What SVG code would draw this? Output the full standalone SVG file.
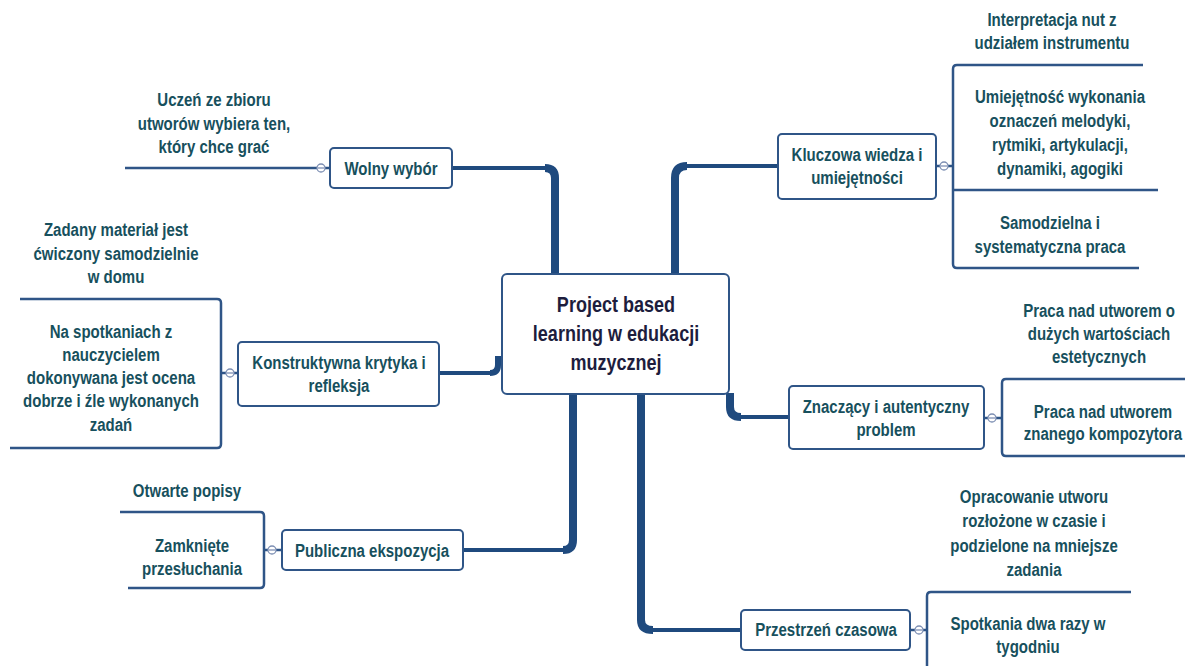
<svg xmlns="http://www.w3.org/2000/svg" width="1185" height="666" viewBox="0 0 1185 666">
<style>
.box{fill:#fff;stroke:#2f5587;stroke-width:2}
.leaf{fill:none;stroke:#2f5587;stroke-width:2.5}
.thin{fill:none;stroke:#1f4a7e;stroke-width:4}
.thick{fill:none;stroke:#1f4a7e;stroke-width:8}
.tog{fill:#fff;stroke:#7d8fb3;stroke-width:1.3}
.tm{stroke:#7d8fb3;stroke-width:1.3}
.t{font-family:"Liberation Sans",Arial,sans-serif;font-weight:bold;font-size:19px;fill:#17505d;text-anchor:middle}
.c{font-family:"Liberation Sans",Arial,sans-serif;font-weight:bold;font-size:22px;fill:#1d1d3d;text-anchor:middle}
</style>
<rect width="1185" height="666" fill="#fff"/>
<g id="connectors">
<path class="thin" d="M452,168 H549"/>
<path class="thick" d="M545,168 Q555,168 555,178 V275"/>
<path class="thin" d="M778,166 H683"/>
<path class="thick" d="M687,166 Q675,166 675,178 V275"/>
<path class="thin" d="M439,373 H492"/>
<path class="thick" d="M490,373 Q498,373 498,365 V356" style="stroke-width:6"/>
<path class="thin" d="M463,550 H566"/>
<path class="thick" d="M563,550 Q573,550 573,540 V393"/>
<path class="thin" d="M789,417 H738"/>
<path class="thick" d="M741,417 Q730,417 730,407 V393"/>
<path class="thin" d="M741,630 H650"/>
<path class="thick" d="M653,630 Q641,630 641,620 V393"/>
</g>
<g id="central">
<rect class="box" x="502" y="274" width="227" height="120" rx="5"/>
<text class="c" transform="matrix(0.82 0 0 1 616 0)"><tspan x="0" y="312">Project based</tspan><tspan x="0" y="341">learning w edukacji</tspan><tspan x="0" y="370">muzycznej</tspan></text>
</g>
<g id="wolny">
<rect class="box" x="330" y="148" width="122" height="40" rx="4"/>
<text class="t" transform="matrix(0.79 0 0 1 391 0)"><tspan x="0" y="175">Wolny wybór</tspan></text>
<path class="leaf" d="M125,168 H317 M325,168 H330"/>
<circle class="tog" cx="321" cy="168" r="4"/><path class="tm" d="M318,168 H324"/>
<text class="t" transform="matrix(0.79 0 0 1 214 0)"><tspan x="0" y="106">Uczeń ze zbioru</tspan><tspan x="0" y="130">utworów wybiera ten,</tspan><tspan x="0" y="153">który chce grać</tspan></text>
</g>
<g id="kluczowa">
<rect class="box" x="778" y="134" width="158" height="65" rx="4"/>
<text class="t" transform="matrix(0.79 0 0 1 857 0)"><tspan x="0" y="161">Kluczowa wiedza i</tspan><tspan x="0" y="184">umiejętności</tspan></text>
<path class="leaf" d="M936,166 H940 M948,166 H953 M1143,65 H957 Q953,65 953,69 V264 Q953,268 957,268 H1139 M953,190 H1158"/>
<circle class="tog" cx="944" cy="166" r="4"/><path class="tm" d="M941,166 H947"/>
<text class="t" transform="matrix(0.79 0 0 1 1052 0)"><tspan x="0" y="26">Interpretacja nut z</tspan><tspan x="0" y="49">udziałem instrumentu</tspan></text>
<text class="t" transform="matrix(0.79 0 0 1 1060 0)"><tspan x="0" y="103">Umiejętność wykonania</tspan><tspan x="0" y="127">oznaczeń melodyki,</tspan><tspan x="0" y="151">rytmiki, artykulacji,</tspan><tspan x="0" y="175">dynamiki, agogiki</tspan></text>
<text class="t" transform="matrix(0.79 0 0 1 1050 0)"><tspan x="0" y="229">Samodzielna i</tspan><tspan x="0" y="253">systematyczna praca</tspan></text>
</g>
<g id="konstruktywna">
<rect class="box" x="238" y="342" width="201" height="64" rx="4"/>
<text class="t" transform="matrix(0.79 0 0 1 339 0)"><tspan x="0" y="369">Konstruktywna krytyka i</tspan><tspan x="0" y="392">refleksja</tspan></text>
<path class="leaf" d="M238,373 H234 M226,373 H221 M20,299 H217 Q221,299 221,303 V444 Q221,448 217,448 H10"/>
<circle class="tog" cx="230" cy="373" r="4"/><path class="tm" d="M227,373 H233"/>
<text class="t" transform="matrix(0.79 0 0 1 116 0)"><tspan x="0" y="236">Zadany materiał jest</tspan><tspan x="0" y="260">ćwiczony samodzielnie</tspan><tspan x="0" y="283">w domu</tspan></text>
<text class="t" transform="matrix(0.79 0 0 1 111 0)"><tspan x="0" y="338">Na spotkaniach z</tspan><tspan x="0" y="361">nauczycielem</tspan><tspan x="0" y="384">dokonywana jest ocena</tspan><tspan x="0" y="407">dobrze i źle wykonanych</tspan><tspan x="0" y="431">zadań</tspan></text>
</g>
<g id="znaczacy">
<rect class="box" x="789" y="386" width="195" height="63" rx="4"/>
<text class="t" transform="matrix(0.79 0 0 1 886 0)"><tspan x="0" y="413">Znaczący i autentyczny</tspan><tspan x="0" y="436">problem</tspan></text>
<path class="leaf" d="M984,418 H988 M996,418 H1002 M1185,379 H1006 Q1002,379 1002,383 V452 Q1002,456 1006,456 H1185"/>
<circle class="tog" cx="992" cy="418" r="4"/><path class="tm" d="M989,418 H995"/>
<text class="t" transform="matrix(0.79 0 0 1 1099 0)"><tspan x="0" y="317">Praca nad utworem o</tspan><tspan x="0" y="340">dużych wartościach</tspan><tspan x="0" y="363">estetycznych</tspan></text>
<text class="t" transform="matrix(0.79 0 0 1 1103 0)"><tspan x="0" y="418">Praca nad utworem</tspan><tspan x="0" y="440">znanego kompozytora</tspan></text>
</g>
<g id="publiczna">
<rect class="box" x="282" y="530" width="181" height="40" rx="4"/>
<text class="t" transform="matrix(0.79 0 0 1 372 0)"><tspan x="0" y="557">Publiczna ekspozycja</tspan></text>
<path class="leaf" d="M282,550 H276 M268,550 H264 M120,512 H260 Q264,512 264,516 V584 Q264,588 260,588 H128"/>
<circle class="tog" cx="272" cy="550" r="4"/><path class="tm" d="M269,550 H275"/>
<text class="t" transform="matrix(0.79 0 0 1 187 0)"><tspan x="0" y="497">Otwarte popisy</tspan></text>
<text class="t" transform="matrix(0.79 0 0 1 192 0)"><tspan x="0" y="552">Zamknięte</tspan><tspan x="0" y="575">przesłuchania</tspan></text>
</g>
<g id="przestrzen">
<rect class="box" x="741" y="610" width="169" height="40" rx="4"/>
<text class="t" transform="matrix(0.79 0 0 1 826 0)"><tspan x="0" y="636">Przestrzeń czasowa</tspan></text>
<path class="leaf" d="M910,630 H915 M923,630 H927 M1131,592 H931 Q927,592 927,596 V670"/>
<circle class="tog" cx="919" cy="630" r="4"/><path class="tm" d="M916,630 H922"/>
<text class="t" transform="matrix(0.79 0 0 1 1034 0)"><tspan x="0" y="503">Opracowanie utworu</tspan><tspan x="0" y="527">rozłożone w czasie i</tspan><tspan x="0" y="552">podzielone na mniejsze</tspan><tspan x="0" y="576">zadania</tspan></text>
<text class="t" transform="matrix(0.79 0 0 1 1028 0)"><tspan x="0" y="630">Spotkania dwa razy w</tspan><tspan x="0" y="653">tygodniu</tspan></text>
</g>
</svg>
